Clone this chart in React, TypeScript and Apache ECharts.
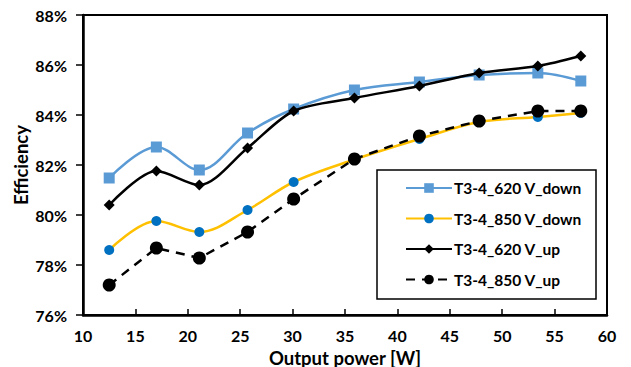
import React, { useEffect, useRef } from "react";
import * as echarts from "echarts";

const xPower = [12.5, 17.0, 21.1, 25.7, 30.1, 35.9, 42.1, 47.8, 53.4, 57.5];
const down620 = [81.48, 82.72, 81.8, 83.28, 84.24, 85.0, 85.32, 85.6, 85.68, 85.36];
const down850 = [78.6, 79.76, 79.32, 80.2, 81.32, 82.22, 83.04, 83.72, 83.92, 84.08];
const up620 = [80.4, 81.76, 81.2, 82.68, 84.16, 84.68, 85.16, 85.68, 85.96, 86.36];
const up850 = [77.2, 78.68, 78.28, 79.32, 80.64, 82.24, 83.16, 83.76, 84.16, 84.16];
const seriesNames = ["T3-4_620 V_down", "T3-4_850 V_down", "T3-4_620 V_up", "T3-4_850 V_up"];

const FONT = "Lato";

function pairs(ys: number[]) {
  return xPower.map((x, i) => [x, ys[i]]);
}

export default function App() {
  const ref = useRef<HTMLDivElement>(null);
  useEffect(() => {
    if (!ref.current) return;
    const chart = echarts.init(ref.current, undefined, { renderer: "svg" });
    chart.setOption({
      animation: false,
      backgroundColor: "#fff",
      textStyle: { fontFamily: FONT },
      grid: {
        left: 83, right: 24, top: 15, bottom: 52,
        outerBoundsMode: "none", containLabel: false,
        show: true, borderColor: "#000", borderWidth: 2,
      },
      xAxis: {
        type: "value", min: 10, max: 60, interval: 5,
        name: "Output power [W]", nameLocation: "middle", nameGap: 33, nameMoveOverlap: false,
        nameTextStyle: { fontFamily: FONT, fontWeight: "bold", fontSize: 18.5, color: "#000" },
        axisLine: { onZero: false, lineStyle: { color: "#000", width: 2.5 } },
        axisTick: { inside: true, length: 6, lineStyle: { color: "#000", width: 1.5 } },
        axisLabel: { margin: 12, fontFamily: FONT, fontWeight: "bold", fontSize: 16, color: "#000" },
        splitLine: { show: false },
      },
      yAxis: {
        type: "value", min: 76, max: 88, interval: 2,
        name: "Efficiency", nameLocation: "middle", nameGap: 53, nameMoveOverlap: false, nameRotate: 90,
        nameTextStyle: { fontFamily: FONT, fontWeight: "bold", fontSize: 18.5, color: "#000" },
        axisLine: { show: true, onZero: false, lineStyle: { color: "#000", width: 2.5 } },
        axisTick: { show: true, inside: false, length: 7, lineStyle: { color: "#000", width: 1.5 } },
        axisLabel: { margin: 16, formatter: "{value}%", fontFamily: FONT, fontWeight: "bold", fontSize: 16, color: "#000" },
        splitLine: { show: false },
      },
      legend: {
        orient: "vertical", left: 400, top: 175, itemGap: 14.5,
        itemWidth: 46, itemHeight: 12,
        textStyle: { fontFamily: FONT, fontWeight: "bold", fontSize: 15.5, color: "#000", padding: [0, 0, 0, -3] },
        data: seriesNames,
      },
      graphic: [
        {
          type: "rect", shape: { x: 377, y: 170, width: 219, height: 129 },
          style: { fill: "none", stroke: "#000", lineWidth: 1.5 }, z: 10,
        },
      ],
      series: [
        {
          name: seriesNames[0], type: "line", data: pairs(down620), smooth: 0.35,
          symbol: "rect", symbolSize: 11,
          lineStyle: { color: "#5B9BD5", width: 2.5 }, itemStyle: { color: "#5B9BD5" }, z: 3,
        },
        {
          name: seriesNames[1], type: "line", data: pairs(down850), smooth: 0.35,
          symbol: "circle", symbolSize: 10,
          lineStyle: { color: "#FFC000", width: 2.5 }, itemStyle: { color: "#0070C0" }, z: 2,
        },
        {
          name: seriesNames[2], type: "line", data: pairs(up620), smooth: 0.3,
          symbol: "diamond", symbolSize: 11,
          lineStyle: { color: "#000", width: 2.5 }, itemStyle: { color: "#000" }, z: 4,
        },
        {
          name: seriesNames[3], type: "line", data: pairs(up850), smooth: false,
          symbol: "circle", symbolSize: 13,
          lineStyle: { color: "#000", width: 2.5, type: [9, 7] }, itemStyle: { color: "#000" }, z: 5,
        },
      ],
    });
    return () => chart.dispose();
  }, []);
  return <div ref={ref} style={{ width: 631, height: 367, position: "absolute", left: 0, top: 0 }} />;
}
